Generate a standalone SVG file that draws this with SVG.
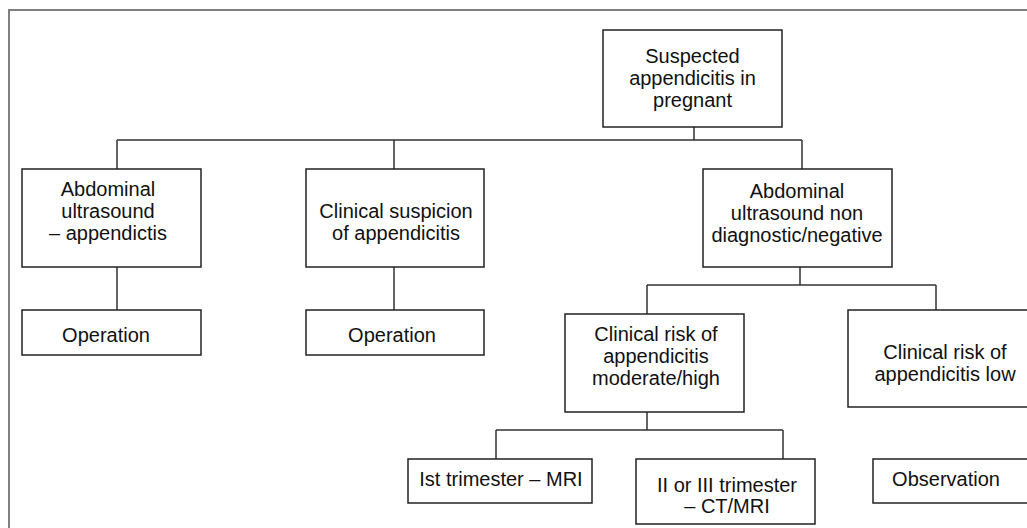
<svg xmlns="http://www.w3.org/2000/svg" width="1027" height="528" viewBox="0 0 1027 528">
<style>
.box{fill:#fff;stroke:#222;stroke-width:1.5}
.t{font-family:"Liberation Sans",Arial,sans-serif;font-size:20px;fill:#111;text-anchor:middle}
.c{fill:none;stroke:#333;stroke-width:1.5}
.frame{fill:none;stroke:#808080;stroke-width:2}
</style>
<rect width="1027" height="528" fill="#fff"/>
<path class="frame" d="M9 528 V10 H1027"/>
<g id="connectors">
<path class="c" d="M694 127 V140 M117 140 H802 M117 140 V169 M394 140 V169 M802 140 V169"/>
<path class="c" d="M117 267 V310 M394 267 V310"/>
<path class="c" d="M800 267 V285 M647 285 H936 M647 285 V314 M936 285 V310"/>
<path class="c" d="M647 412 V430 M496 430 H783 M496 430 V459 M783 430 V459"/>
</g>
<g id="n_root">
<rect class="box" x="603" y="30" width="179" height="97"/>
<text class="t" x="692.5" y="63">Suspected</text>
<text class="t" x="692.5" y="85">appendicitis in</text>
<text class="t" x="692.5" y="107">pregnant</text>
</g>
<g id="n_us_app">
<rect class="box" x="22" y="169" width="179" height="98"/>
<text class="t" x="108" y="196">Abdominal</text>
<text class="t" x="108" y="218">ultrasound</text>
<text class="t" x="108" y="240">– appendictis</text>
</g>
<g id="n_clin">
<rect class="box" x="306" y="169" width="178" height="98"/>
<text class="t" x="396" y="218">Clinical suspicion</text>
<text class="t" x="396" y="240">of appendicitis</text>
</g>
<g id="n_us_neg">
<rect class="box" x="703" y="169" width="189" height="98"/>
<text class="t" x="797" y="198">Abdominal</text>
<text class="t" x="797" y="220">ultrasound non</text>
<text class="t" x="797" y="242">diagnostic/negative</text>
</g>
<g id="n_op1">
<rect class="box" x="22" y="310" width="179" height="45"/>
<text class="t" x="106" y="342">Operation</text>
</g>
<g id="n_op2">
<rect class="box" x="306" y="310" width="178" height="45"/>
<text class="t" x="392" y="342">Operation</text>
</g>
<g id="n_mod">
<rect class="box" x="565" y="314" width="179" height="98"/>
<text class="t" x="656" y="341">Clinical risk of</text>
<text class="t" x="656" y="363">appendicitis</text>
<text class="t" x="656" y="385">moderate/high</text>
</g>
<g id="n_low">
<rect class="box" x="848" y="310" width="200" height="97"/>
<text class="t" x="945" y="359">Clinical risk of</text>
<text class="t" x="945" y="381">appendicitis low</text>
</g>
<g id="n_first">
<rect class="box" x="408" y="459" width="184" height="44"/>
<text class="t" x="501" y="486">Ist trimester – MRI</text>
</g>
<g id="n_second">
<rect class="box" x="636" y="459" width="179" height="65"/>
<text class="t" x="727" y="492">II or III trimester</text>
<text class="t" x="727" y="513">– CT/MRI</text>
</g>
<g id="n_obs">
<rect class="box" x="873" y="459" width="180" height="44"/>
<text class="t" x="946" y="486">Observation</text>
</g>
</svg>
